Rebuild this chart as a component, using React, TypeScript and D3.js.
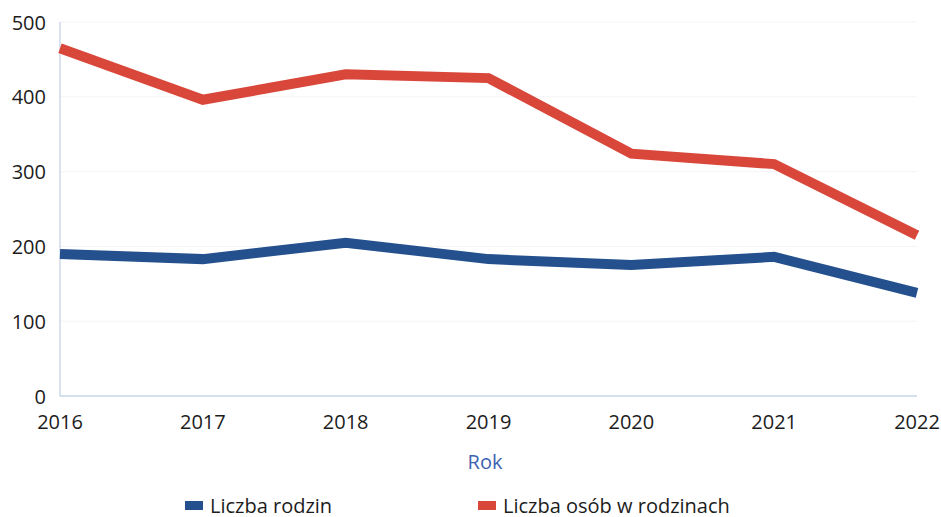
import React from "react";
import * as d3 from "d3";

const years = [2016, 2017, 2018, 2019, 2020, 2021, 2022];
const families = [190, 183, 205, 183, 175, 186, 138];
const persons = [465, 396, 430, 425, 324, 310, 215];
const yTicks = [0, 100, 200, 300, 400, 500];
const seriesNames = ["Liczba rodzin", "Liczba osób w rodzinach"];
const seriesColors = ["#24508e", "#d9473b"];

const W = 941;
const H = 517;
const FONT = "'Open Sans', 'Noto Sans', sans-serif";

export default function App() {
  const x = d3.scalePoint<number>().domain(years).range([60, 917]);
  const y = d3.scaleLinear().domain([0, 500]).range([396, 22]);
  const line = d3
    .line<number>()
    .x((_, i) => x(years[i]) as number)
    .y((d) => y(d));

  const series = [families, persons];

  return (
    <svg
      width={W}
      height={H}
      style={{ position: "absolute", left: 0, top: 0, background: "#fff" }}
      fontFamily={FONT}
    >
      {yTicks.slice(1).map((t) => (
        <line key={"g" + t} x1={61} x2={917} y1={y(t)} y2={y(t)} stroke="#f4f4f4" strokeWidth={1} />
      ))}
      <line x1={60} x2={60} y1={22} y2={396} stroke="#b4c6de" strokeWidth={1} />
      <line x1={60} x2={917} y1={396} y2={396} stroke="#a9c1de" strokeWidth={1.2} />
      {yTicks.map((t) => (
        <text key={"y" + t} x={46} y={y(t)} textAnchor="end" dominantBaseline="central" fontSize={20} fill="#1c1c1c">
          {t}
        </text>
      ))}
      {years.map((yr) => (
        <text key={"x" + yr} x={x(yr) as number} y={421} textAnchor="middle" dominantBaseline="central" fontSize={20} fill="#1c1c1c">
          {yr}
        </text>
      ))}
      <text x={485} y={461} textAnchor="middle" dominantBaseline="central" fontSize={20} fill="#3d63b0">
        Rok
      </text>
      {series.map((s, i) => (
        <path
          key={"s" + i}
          d={line(s) || ""}
          fill="none"
          stroke={seriesColors[i]}
          strokeWidth={10}
          strokeLinejoin="miter"
          strokeLinecap="butt"
        />
      ))}
      {seriesNames.map((n, i) => {
        const lx = i === 0 ? 185 : 478;
        return (
          <g key={"l" + i}>
            <rect x={lx} y={501} width={18} height={9} fill={seriesColors[i]} />
            <text x={lx + 25} y={505} dominantBaseline="central" fontSize={20} fill="#1c1c1c">
              {n}
            </text>
          </g>
        );
      })}
    </svg>
  );
}
